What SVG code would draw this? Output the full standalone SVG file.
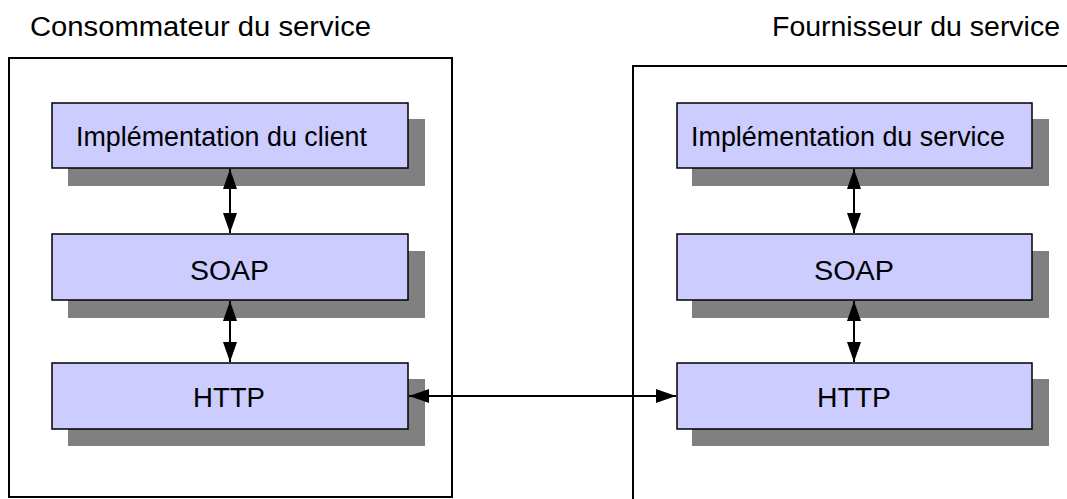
<svg xmlns="http://www.w3.org/2000/svg" width="1067" height="499" viewBox="0 0 1067 499">
<style>
text{font-family:"Liberation Sans",Arial,sans-serif;fill:#000;font-size:27px}
.container{fill:#fff;stroke:#000;stroke-width:2}
.shadow{fill:#808080}
.box{fill:#ccccff;stroke:#000;stroke-width:1.5}
.conn{stroke:#000;stroke-width:2;fill:none}
</style>
<defs>
<marker id="ah" markerUnits="userSpaceOnUse" markerWidth="20" markerHeight="14" refX="20" refY="7" orient="auto-start-reverse">
<path d="M0,0 L20,7 L0,14 z" fill="#000"/>
</marker>
</defs>
<rect width="1067" height="499" fill="#fff"/>
<g id="consumer">
<rect class="container" x="9" y="58" width="443" height="439"/>
<text x="30" y="36" textLength="341" lengthAdjust="spacingAndGlyphs">Consommateur du service</text>
</g>
<g id="provider">
<rect class="container" x="633" y="66" width="460" height="460"/>
<text x="772" y="36" textLength="288" lengthAdjust="spacingAndGlyphs">Fournisseur du service</text>
</g>
<g id="client-impl">
<rect class="shadow" x="68" y="119" width="357" height="67"/>
<rect class="box" x="52" y="103" width="356" height="65"/>
<text x="76" y="146" textLength="291" lengthAdjust="spacingAndGlyphs">Implémentation du client</text>
</g>
<g id="client-soap">
<rect class="shadow" x="68" y="251" width="357" height="67"/>
<rect class="box" x="52" y="234" width="356" height="66"/>
<text x="190" y="280" textLength="79" lengthAdjust="spacingAndGlyphs">SOAP</text>
</g>
<g id="client-http">
<rect class="shadow" x="68" y="379" width="357" height="67"/>
<rect class="box" x="52" y="363" width="356" height="66"/>
<text x="193" y="407" textLength="72" lengthAdjust="spacingAndGlyphs">HTTP</text>
</g>
<g id="service-impl">
<rect class="shadow" x="692" y="119" width="357" height="67"/>
<rect class="box" x="677" y="103" width="355" height="65"/>
<text x="691" y="146" textLength="314" lengthAdjust="spacingAndGlyphs">Implémentation du service</text>
</g>
<g id="service-soap">
<rect class="shadow" x="692" y="251" width="357" height="67"/>
<rect class="box" x="677" y="234" width="355" height="66"/>
<text x="814" y="280" textLength="80" lengthAdjust="spacingAndGlyphs">SOAP</text>
</g>
<g id="service-http">
<rect class="shadow" x="692" y="379" width="357" height="67"/>
<rect class="box" x="677" y="363" width="355" height="66"/>
<text x="817" y="407" textLength="74" lengthAdjust="spacingAndGlyphs">HTTP</text>
</g>
<g id="connectors">
<line class="conn" x1="230" y1="169" x2="230" y2="233" marker-start="url(#ah)" marker-end="url(#ah)"/>
<line class="conn" x1="230" y1="301" x2="230" y2="362" marker-start="url(#ah)" marker-end="url(#ah)"/>
<line class="conn" x1="854" y1="169" x2="854" y2="233" marker-start="url(#ah)" marker-end="url(#ah)"/>
<line class="conn" x1="854" y1="301" x2="854" y2="362" marker-start="url(#ah)" marker-end="url(#ah)"/>
<line class="conn" x1="409" y1="396" x2="676" y2="396" marker-start="url(#ah)" marker-end="url(#ah)"/>
</g>
</svg>
